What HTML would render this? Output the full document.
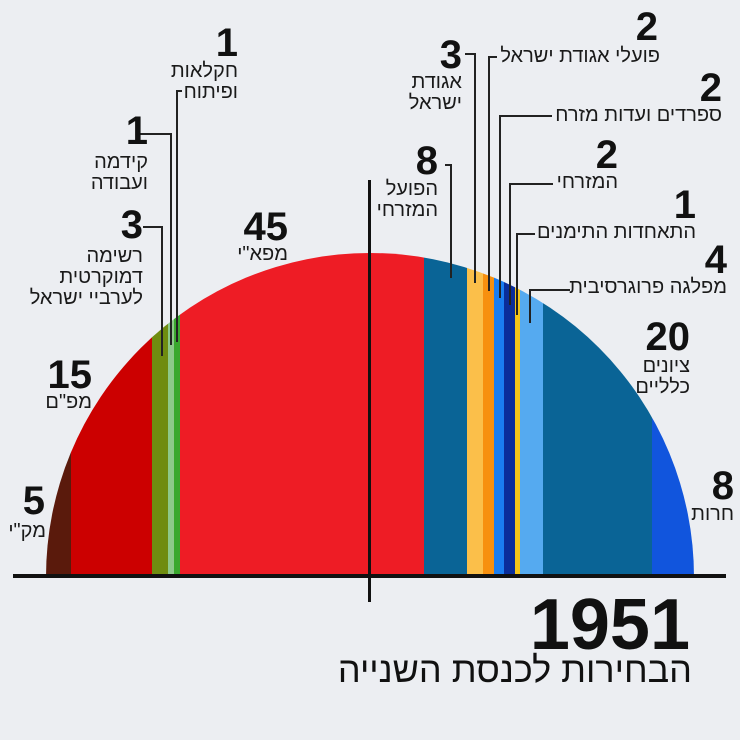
<!DOCTYPE html>
<html><head><meta charset="utf-8"><style>
body{margin:0;width:740px;height:740px;background:#eceef2;position:relative;overflow:hidden;font-family:"Liberation Sans",sans-serif;color:#111}
.n{position:absolute;font-size:40px;font-weight:bold;line-height:38px;text-align:right;white-space:nowrap}
.l{position:absolute;font-size:20px;line-height:21px;text-align:right;direction:rtl;white-space:nowrap;color:#1a1a1a}
svg{position:absolute;left:0;top:0}
</style></head><body>
<svg width="740" height="740">
<defs><clipPath id="c"><circle cx="370" cy="577" r="324"/></clipPath></defs>
<g clip-path="url(#c)">
<rect x="40" y="240" width="31" height="337" fill="#5a1a0c"/>
<rect x="71" y="240" width="81" height="337" fill="#cc0000"/>
<rect x="152" y="240" width="16" height="337" fill="#6f8c10"/>
<rect x="168" y="240" width="6" height="337" fill="#8dc98a"/>
<rect x="174" y="240" width="6" height="337" fill="#3aa82e"/>
<rect x="180" y="240" width="244" height="337" fill="#ee1c25"/>
<rect x="424" y="240" width="43" height="337" fill="#0a6496"/>
<rect x="467" y="240" width="16" height="337" fill="#fbbf4a"/>
<rect x="483" y="240" width="11" height="337" fill="#f7900f"/>
<rect x="494" y="240" width="10" height="337" fill="#1a7df0"/>
<rect x="504" y="240" width="11" height="337" fill="#0a2d9a"/>
<rect x="515" y="240" width="5" height="337" fill="#f5c518"/>
<rect x="520" y="240" width="23" height="337" fill="#55aaf0"/>
<rect x="543" y="240" width="109" height="337" fill="#0a6496"/>
<rect x="652" y="240" width="50" height="337" fill="#1155dd"/>
</g>
<rect x="13" y="574" width="713" height="4" fill="#111"/>
<rect x="368" y="180" width="3" height="422" fill="#111"/>
<g stroke="#222" stroke-width="2" fill="none">
<polyline points="182,91 177,91 177,342"/>
<polyline points="140,134 171,134 171,345"/>
<polyline points="143,227 162,227 162,356"/>
<polyline points="445,165 451,165 451,278"/>
<polyline points="465,54 475,54 475,283"/>
<polyline points="497,57 489,57 489,291"/>
<polyline points="552,116 500,116 500,298"/>
<polyline points="553,184 510,184 510,305"/>
<polyline points="535,234 517,234 517,315"/>
<polyline points="570,290 530,290 530,323"/>
</g>
</svg>
<div class="n" style="right:502px;top:24px">1</div>
<div class="l" style="right:502px;top:61px">חקלאות<br>ופיתוח</div>
<div class="n" style="right:592px;top:112px">1</div>
<div class="l" style="right:592px;top:152px">קידמה<br>ועבודה</div>
<div class="n" style="right:597px;top:206px">3</div>
<div class="l" style="right:597px;top:246px">רשימה<br>דמוקרטית<br>לערביי ישראל</div>
<div class="n" style="right:452px;top:208px">45</div>
<div class="l" style="right:452px;top:244px">מפא"י</div>
<div class="n" style="right:648px;top:356px">15</div>
<div class="l" style="right:648px;top:392px">מפ"ם</div>
<div class="n" style="right:695px;top:482px">5</div>
<div class="l" style="right:694px;top:521px">מק"י</div>
<div class="n" style="right:302px;top:142px">8</div>
<div class="l" style="right:302px;top:179px">הפועל<br>המזרחי</div>
<div class="n" style="right:278px;top:36px">3</div>
<div class="l" style="right:278px;top:72px">אגודת<br>ישראל</div>
<div class="n" style="right:82px;top:8px">2</div>
<div class="l" style="right:80px;top:46px">פועלי אגודת ישראל</div>
<div class="n" style="right:18px;top:69px">2</div>
<div class="l" style="right:18px;top:105px">ספרדים ועדות מזרח</div>
<div class="n" style="right:122px;top:136px">2</div>
<div class="l" style="right:122px;top:172px">המזרחי</div>
<div class="n" style="right:44px;top:186px">1</div>
<div class="l" style="right:44px;top:222px">התאחדות התימנים</div>
<div class="n" style="right:13px;top:241px">4</div>
<div class="l" style="right:13px;top:277px">מפלגה פרוגרסיבית</div>
<div class="n" style="right:50px;top:318px">20</div>
<div class="l" style="right:50px;top:356px">ציונים<br>כלליים</div>
<div class="n" style="right:6px;top:467px">8</div>
<div class="l" style="right:6px;top:504px">חרות</div>
<div style="position:absolute;right:50px;top:589px;font-size:72px;line-height:72px;font-weight:bold">1951</div>
<div style="position:absolute;right:48px;top:652px;font-size:36px;line-height:36px;direction:rtl;white-space:nowrap">הבחירות לכנסת השנייה</div>
</body></html>
